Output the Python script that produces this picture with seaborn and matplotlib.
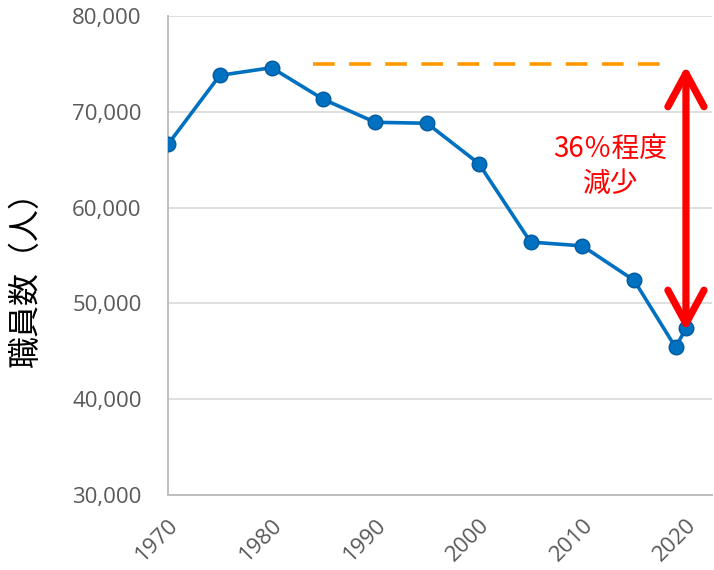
import seaborn as sns
import pandas as pd
import matplotlib.pyplot as plt
from matplotlib.ticker import FuncFormatter

YEARS = [1970, 1975, 1980, 1985, 1990, 1995, 2000, 2005, 2010, 2015, 2019, 2020]
STAFF = [66600, 73800, 74600, 71300, 68900, 68800, 64600, 56400, 56000, 52400, 45400, 47400]
PEAK_LEVEL = 75000
PEAK_SPAN = [1984, 2018]
NOTE = '36％程度\n減少'
YLABEL = '職員数（人）'

BLUE = '#0070C0'
ORANGE = '#FF9900'
GREY_TEXT = '#595959'
GREY_LINE = '#BFBFBF'


def main():
    sns.set_style('white')
    plt.rcParams['font.family'] = ['Noto Sans CJK JP', 'DejaVu Sans']

    df = pd.DataFrame({'year': YEARS, 'staff': STAFF})

    fig = plt.figure(figsize=(7.14, 5.70), dpi=100)
    ax = fig.add_axes([0.2353, 0.1316, 0.7617, 0.8404])

    ax.grid(axis='y', color='#D9D9D9', lw=1.2)
    ax.set_axisbelow(True)

    sns.lineplot(data=df, x='year', y='staff', ax=ax, color=BLUE, lw=2.6,
                 marker='o', markersize=10.5, markerfacecolor=BLUE,
                 markeredgecolor='#005A9E', markeredgewidth=1, zorder=3)

    # peak reference line
    ax.plot(PEAK_SPAN, [PEAK_LEVEL, PEAK_LEVEL], color=ORANGE, lw=2.6,
            dashes=(6, 4), zorder=2)

    # decrease arrow
    ax.annotate('', xy=(YEARS[-1], STAFF[-1] - 300), xytext=(YEARS[-1], PEAK_LEVEL - 200),
                arrowprops=dict(arrowstyle='<->,head_length=1.2,head_width=0.65',
                                color='red', lw=5.2, mutation_scale=20,
                                shrinkA=0, shrinkB=0), zorder=4)
    ax.text(2012.7, 64300, NOTE, color='red', fontsize=20, ha='center',
            va='center', linespacing=1.2)

    ax.set_xlim(1970, 2022.5)
    ax.set_ylim(30000, 80000)
    ax.set_xticks(range(1970, 2021, 10))
    ax.set_yticks(range(30000, 80001, 10000))
    ax.yaxis.set_major_formatter(FuncFormatter(lambda v, p: f'{int(v):,}'))

    ax.set_xlabel('')
    ax.set_ylabel(YLABEL, fontsize=23, color='black')
    ax.yaxis.set_label_coords(-0.232, 0.468)

    for s in ['top', 'right']:
        ax.spines[s].set_visible(False)
    for s in ['left', 'bottom']:
        ax.spines[s].set_color(GREY_LINE)
        ax.spines[s].set_linewidth(1.4)

    ax.tick_params(axis='both', colors=GREY_LINE, labelcolor=GREY_TEXT,
                   labelsize=16, length=6, width=1.2)
    ax.tick_params(axis='y', pad=14, length=5)
    ax.tick_params(axis='x', pad=8)
    for lab in ax.get_yticklabels() + ax.get_xticklabels():
        lab.set_family(['Open Sans', 'DejaVu Sans'])
    plt.setp(ax.get_xticklabels(), rotation=45, ha='right', rotation_mode='anchor')

    fig.savefig('out.png', dpi=100)


if __name__ == '__main__':
    main()
